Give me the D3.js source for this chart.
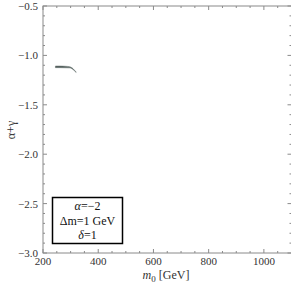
<!DOCTYPE html>
<html>
<head>
<meta charset="utf-8">
<script src="https://cdn.jsdelivr.net/npm/d3@7"></script>
<style>
  body { margin: 0; background: #fff; }
  svg { display: block; }
</style>
</head>
<body>
<svg id="chart" width="291" height="287"></svg>
<script>
// allowed region boundary (thin band)
const m0 = [245, 262, 280, 296, 306, 314, 320];
const upper = [-1.108, -1.108, -1.110, -1.114, -1.128, -1.150, -1.168];
const lower = [-1.124, -1.124, -1.125, -1.126, -1.137, -1.156, -1.172];

const xTicks = [200, 400, 600, 800, 1000];
const yTicks = [-3.0, -2.5, -2.0, -1.5, -1.0, -0.5];
const legendLines = ['α=−2', 'Δm=1 GeV', 'δ=1'];

const margin = { top: 6, right: 0, bottom: 34, left: 43 };
const width = 291, height = 287;

const svg = d3.select('#chart');

const x = d3.scaleLinear()
  .domain([200, 1100])
  .range([margin.left, width + 0.5]);
const y = d3.scaleLinear()
  .domain([-3.0, -0.5])
  .range([height - margin.bottom, margin.top]);

const axisColor = '#8a8a8a';
const font = '"Liberation Serif", "DejaVu Serif", serif';

const x0 = x.range()[0], x1 = x.range()[1];
const y0 = y.range()[0], y1 = y.range()[1];

// frame
svg.append('rect')
  .attr('x', x0).attr('y', y1)
  .attr('width', x1 - x0).attr('height', y0 - y1)
  .attr('fill', 'none')
  .attr('stroke', axisColor)
  .attr('stroke-width', 1);

// minor / major ticks, Mathematica style (inward on all four sides)
const xMinor = d3.range(200, 1101, 50);
const yMinor = d3.range(-3.0, -0.49, 0.1);

function tickLen(v, step) {
  return Math.abs(v / step - Math.round(v / step)) < 1e-6 ? 4 : 2;
}

const tickG = svg.append('g').attr('stroke', axisColor).attr('stroke-width', 1);
xMinor.forEach(function (v) {
  const l = tickLen(v, 200);
  tickG.append('line').attr('x1', x(v)).attr('x2', x(v)).attr('y1', y0).attr('y2', y0 - l);
  tickG.append('line').attr('x1', x(v)).attr('x2', x(v)).attr('y1', y1).attr('y2', y1 + l);
});
yMinor.forEach(function (v) {
  const l = tickLen(v, 0.5);
  tickG.append('line').attr('y1', y(v)).attr('y2', y(v)).attr('x1', x0).attr('x2', x0 + l);
  tickG.append('line').attr('y1', y(v)).attr('y2', y(v)).attr('x1', x1).attr('x2', x1 - l);
});

// tick labels
svg.append('g')
  .selectAll('text')
  .data(xTicks)
  .join('text')
  .attr('x', d => x(d))
  .attr('y', y0 + 12)
  .attr('text-anchor', 'middle')
  .attr('font-family', font)
  .attr('font-size', 11)
  .attr('fill', '#333')
  .text(d => d3.format('d')(d));

svg.append('g')
  .selectAll('text')
  .data(yTicks)
  .join('text')
  .attr('x', x0 - 5)
  .attr('y', d => y(d) + 4)
  .attr('text-anchor', 'end')
  .attr('font-family', font)
  .attr('font-size', 11)
  .attr('fill', '#333')
  .text(d => d3.format('.1f')(d).replace('-', '−'));

// axis titles
const xt = svg.append('text')
  .attr('x', 166)
  .attr('y', 279)
  .attr('text-anchor', 'middle')
  .attr('font-family', font)
  .attr('font-size', 12)
  .attr('fill', '#333');
xt.append('tspan').attr('font-style', 'italic').text('m');
xt.append('tspan').attr('font-size', 9).attr('dy', 3).text('0');
xt.append('tspan').attr('dy', -3).text(' [GeV]');

svg.append('text')
  .attr('transform', 'translate(15,130) rotate(-90)')
  .attr('text-anchor', 'middle')
  .attr('font-family', font)
  .attr('font-size', 12)
  .attr('fill', '#333')
  .text('α+γ');

// allowed region
const band = m0.map((d, i) => ({ m: d, hi: upper[i], lo: lower[i] }));
svg.append('path')
  .datum(band)
  .attr('fill', '#4a5755')
  .attr('stroke', '#6d7876')
  .attr('stroke-width', 0.6)
  .attr('d', d3.area()
    .x(d => x(d.m))
    .y0(d => y(d.lo))
    .y1(d => y(d.hi))
    .curve(d3.curveMonotoneX));

// parameter box
const box = svg.append('g');
box.append('rect')
  .attr('x', 52.5).attr('y', 197.5)
  .attr('width', 70).attr('height', 46)
  .attr('fill', '#fff')
  .attr('stroke', '#000')
  .attr('stroke-width', 1.5);
box.selectAll('text')
  .data(legendLines)
  .join('text')
  .attr('x', 87.5)
  .attr('y', (d, i) => 210 + i * 14.5)
  .attr('text-anchor', 'middle')
  .attr('font-family', font)
  .attr('font-size', 12)
  .attr('fill', '#111')
  .each(function (d) {
    const t = d3.select(this);
    const sym = d[0];
    if (sym === 'α' || sym === 'δ') {
      t.append('tspan').attr('font-style', 'italic').text(sym);
      t.append('tspan').text(d.slice(1));
    } else {
      t.text(d);
    }
  });
</script>
</body>
</html>
